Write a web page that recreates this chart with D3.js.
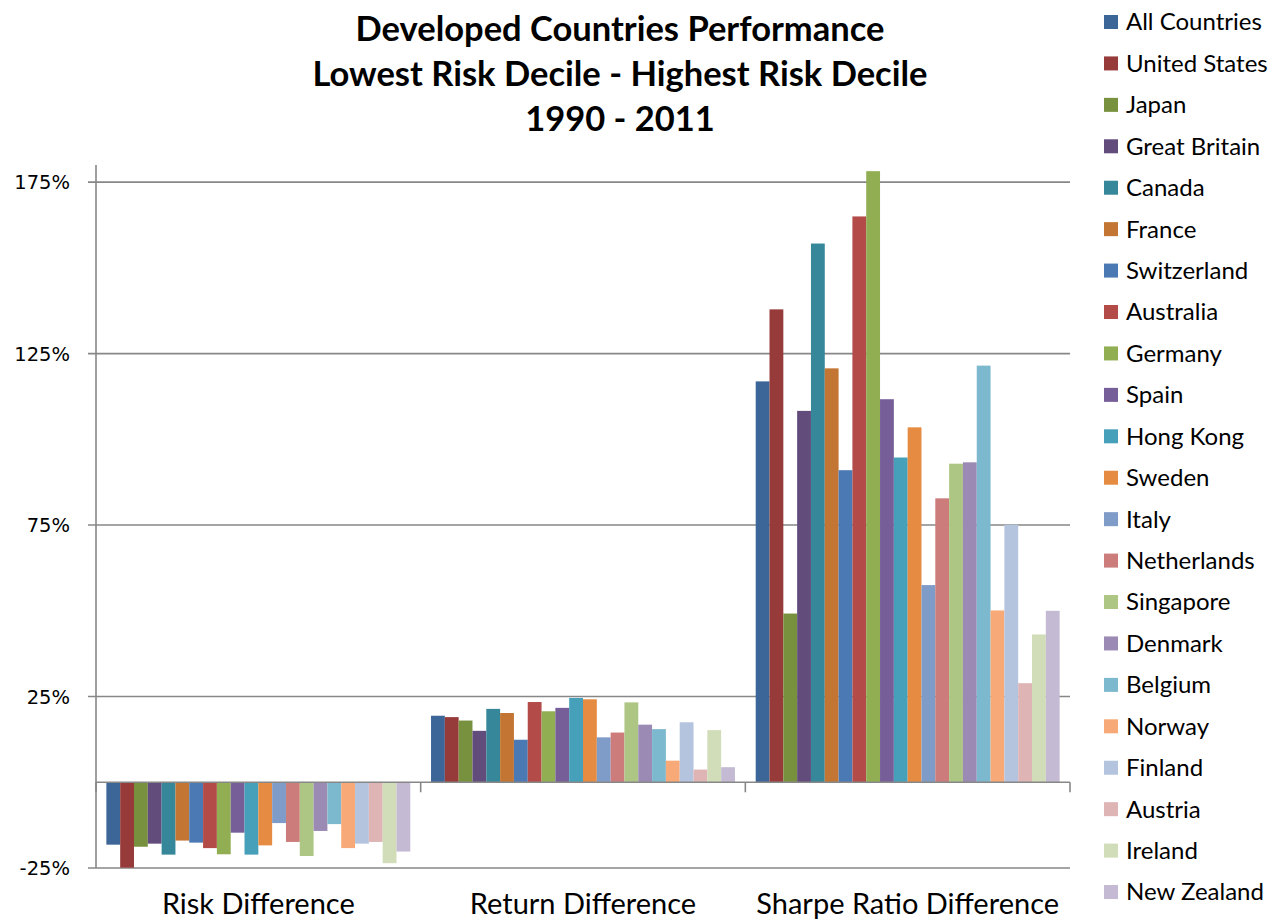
<!DOCTYPE html>
<html>
<head>
<meta charset="utf-8">
<script src="https://cdn.jsdelivr.net/npm/d3@7"></script>
<style>
  body { margin: 0; background: #fff; }
  text { font-family: Lato, "Open Sans", sans-serif; fill: #000; }
</style>
</head>
<body>
<div id="chart"></div>
<script>
// chart data
var categories = ["Risk Difference", "Return Difference", "Sharpe Ratio Difference"];

var countries = ["All Countries", "United States", "Japan", "Great Britain", "Canada", "France",
  "Switzerland", "Australia", "Germany", "Spain", "Hong Kong", "Sweden", "Italy", "Netherlands",
  "Singapore", "Denmark", "Belgium", "Norway", "Finland", "Austria", "Ireland", "New Zealand"];

var colours = ["#3c6598", "#963a3a", "#78913f", "#624c7c", "#37879a", "#c37533",
  "#4a79b3", "#b34b48", "#91ae52", "#765e98", "#46a0b9", "#e68c42", "#7f9cc8", "#cb7c7b",
  "#aec684", "#9b8ab4", "#7db9ce", "#f7a977", "#b4c4df", "#dfb4b4", "#d0ddb8", "#c4bad3"];

var riskDiff = [-18.2, -24.9, -18.8, -17.9, -21.1, -17.0, -17.6, -19.2, -21.0, -14.7, -21.1,
  -18.4, -11.9, -17.4, -21.5, -14.2, -12.2, -19.2, -17.9, -17.4, -23.6, -20.2];
var returnDiff = [19.4, 19.0, 18.0, 15.0, 21.4, 20.2, 12.4, 23.4, 20.7, 21.7, 24.6,
  24.2, 13.1, 14.5, 23.3, 16.8, 15.5, 6.3, 17.5, 3.7, 15.2, 4.4];
var sharpeDiff = [116.9, 137.9, 49.2, 108.3, 157.1, 120.7, 91.0, 165.0, 178.2, 111.7, 94.7,
  103.5, 57.5, 82.8, 92.9, 93.3, 121.5, 50.1, 75.1, 28.9, 43.1, 50.0];

var yTicks = [-25, 25, 75, 125, 175];
var titleLines = ["Developed Countries Performance", "Lowest Risk Decile - Highest Risk Decile", "1990 - 2011"];

var series = [riskDiff, returnDiff, sharpeDiff];

var width = 1273, height = 922;
var plot = {left: 96, right: 1070, top: 165, bottom: 868};
var gridColour = "#878787";

var svg = d3.select("#chart").append("svg")
  .attr("width", width).attr("height", height);

var x0 = d3.scaleBand().domain(categories).range([plot.left, plot.right]).padding(0);
var x1 = d3.scaleBand().domain(countries).range([0, x0.bandwidth()])
  .paddingInner(0).paddingOuter(0.75);
var y = d3.scaleLinear().domain([-25, 180]).range([plot.bottom, plot.top]);

// gridlines
svg.append("g").selectAll("line").data(yTicks).join("line")
  .attr("x1", plot.left - 8).attr("x2", plot.right)
  .attr("y1", d => y(d)).attr("y2", d => y(d))
  .attr("stroke", gridColour).attr("stroke-width", 1.6);

// y tick labels
svg.append("g").selectAll("text").data(yTicks).join("text")
  .attr("x", 70).attr("y", d => y(d))
  .attr("dy", "0.36em")
  .attr("text-anchor", "end")
  .style("font-family", "'DejaVu Sans', sans-serif")
  .style("font-size", "19.5px")
  .text(d => d + "%");

// bars
var groups = svg.append("g").selectAll("g").data(categories).join("g")
  .attr("transform", d => "translate(" + x0(d) + ",0)");

groups.selectAll("rect")
  .data((d, i) => series[i].map((v, j) => ({country: countries[j], value: v, colour: colours[j]})))
  .join("rect")
  .attr("x", d => x1(d.country))
  .attr("width", x1.bandwidth())
  .attr("y", d => y(Math.max(0, d.value)))
  .attr("height", d => Math.abs(y(d.value) - y(0)))
  .attr("fill", d => d.colour);

// axes
svg.append("line")
  .attr("x1", plot.left).attr("x2", plot.left)
  .attr("y1", plot.top).attr("y2", plot.bottom)
  .attr("stroke", gridColour).attr("stroke-width", 1.6);

svg.append("line")
  .attr("x1", plot.left).attr("x2", plot.right)
  .attr("y1", y(0)).attr("y2", y(0))
  .attr("stroke", gridColour).attr("stroke-width", 1.6);

var bounds = categories.map(d => x0(d)).concat([plot.right]);
svg.append("g").selectAll("line").data(bounds).join("line")
  .attr("x1", d => d).attr("x2", d => d)
  .attr("y1", y(0)).attr("y2", y(0) + 10)
  .attr("stroke", gridColour).attr("stroke-width", 1.6);

// category labels
svg.append("g").selectAll("text").data(categories).join("text")
  .attr("x", d => x0(d) + x0.bandwidth() / 2)
  .attr("y", 914)
  .attr("text-anchor", "middle")
  .style("font-size", "29px")
  .text(d => d);

// title
svg.append("g").selectAll("text").data(titleLines).join("text")
  .attr("x", 620)
  .attr("y", (d, i) => 41 + i * 45)
  .attr("text-anchor", "middle")
  .style("font-size", "34.5px")
  .style("font-weight", "bold")
  .text(d => d);

// legend
var legend = svg.append("g").selectAll("g").data(countries).join("g")
  .attr("transform", (d, i) => "translate(1104," + (22 + i * 41.43) + ")");

legend.append("rect")
  .attr("x", 0).attr("y", -7)
  .attr("width", 14).attr("height", 14)
  .attr("fill", (d, i) => colours[i]);

legend.append("text")
  .attr("x", 22).attr("y", 0)
  .attr("dy", "0.35em")
  .style("font-size", "24px")
  .text(d => d);
</script>
</body>
</html>
